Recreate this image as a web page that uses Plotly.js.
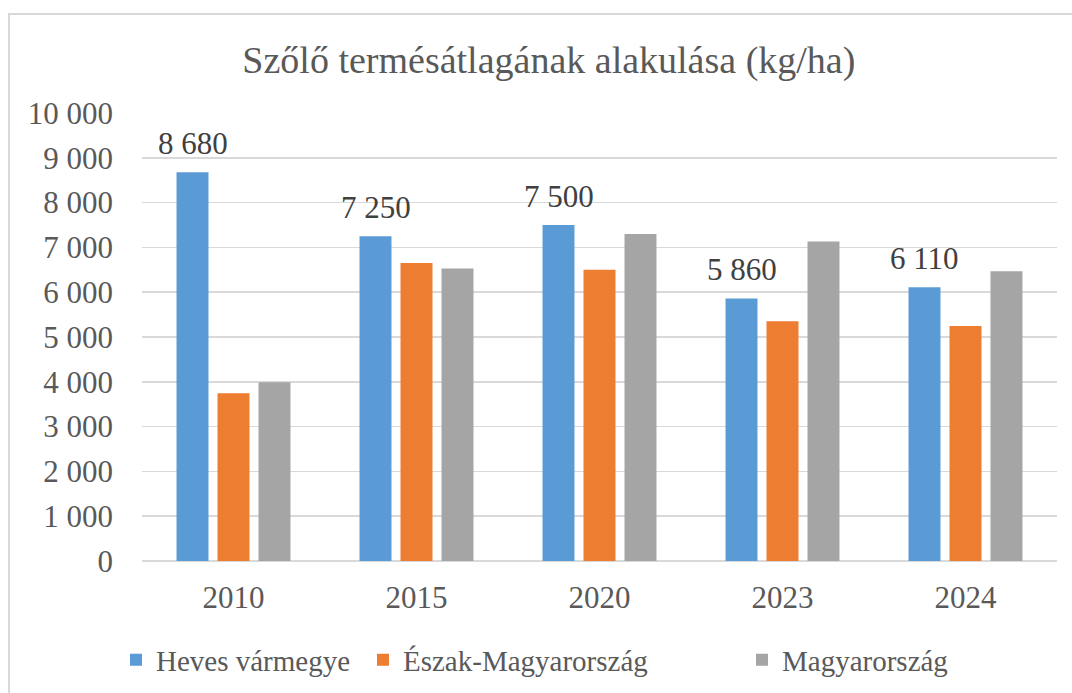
<!DOCTYPE html>
<html>
<head>
<meta charset="utf-8">
<script src="https://cdn.plot.ly/plotly-3.0.1.min.js"></script>
<style>
  html, body { margin: 0; padding: 0; background: #ffffff; overflow: hidden; }
  #frame { position: absolute; left: 8px; top: 13px; width: 1100px; height: 720px; border: 2px solid #d9d9d9; box-sizing: border-box; }
  #chart { position: absolute; left: 0; top: 0; width: 1072px; height: 693px; }
</style>
</head>
<body>
<div id="frame"></div>
<div id="chart"></div>
<script>
const years = ['2010', '2015', '2020', '2023', '2024'];
const seriesNames = ['Heves vármegye', 'Észak-Magyarország', 'Magyarország'];
const heves = [8680, 7250, 7500, 5860, 6110];
const eszak = [3745, 6650, 6500, 5350, 5245];
const magyar = [3990, 6530, 7300, 7130, 6470];
const yTickVals = [0, 1000, 2000, 3000, 4000, 5000, 6000, 7000, 8000, 9000, 10000];
const yTickText = ['0', '1 000', '2 000', '3 000', '4 000', '5 000', '6 000', '7 000', '8 000', '9 000', '10 000'];

function fmt(v) {
  return String(v).replace(/\B(?=(\d{3})+(?!\d))/g, ' ');
}

const FONT = '"Liberation Serif", "Times New Roman", serif';
const colors = ['#5B9BD5', '#ED7D31', '#A5A5A5'];
const BARGAP = 0.328;
const GROUPGAP = 0.22;
const slot = (1 - BARGAP) / 3;

const traces = [
  { type: 'bar', name: seriesNames[0], x: years, y: heves, marker: { color: colors[0] }, legend: 'legend' },
  { type: 'bar', name: seriesNames[1], x: years, y: eszak, marker: { color: colors[1] }, legend: 'legend2' },
  { type: 'bar', name: seriesNames[2], x: years, y: magyar, marker: { color: colors[2] }, legend: 'legend3' }
];

const annotations = heves.map((v, i) => ({
  x: i - slot, y: v, xref: 'x', yref: 'y',
  text: fmt(v), showarrow: false,
  xanchor: 'center', yanchor: 'bottom', yshift: 9,
  font: { family: FONT, size: 31, color: '#404040' }
}));

const legendFont = { family: FONT, size: 29, color: '#595959' };
function legendAt(px) {
  return {
    orientation: 'h', x: px / 1072, xanchor: 'left', xref: 'container',
    y: 1 - 660 / 693, yanchor: 'middle', yref: 'container',
    font: legendFont, bgcolor: 'rgba(0,0,0,0)'
  };
}

const layout = {
  width: 1072, height: 693,
  paper_bgcolor: 'rgba(0,0,0,0)', plot_bgcolor: 'rgba(0,0,0,0)',
  margin: { l: 142, r: 15, t: 113, b: 132 },
  font: { family: FONT, color: '#595959', size: 31 },
  title: {
    text: 'Szőlő termésátlagának alakulása (kg/ha)',
    font: { family: FONT, size: 38, color: '#595959' },
    x: 0.512, xanchor: 'center', xref: 'container',
    y: 1 - 60 / 693, yanchor: 'middle', yref: 'container'
  },
  barmode: 'group',
  bargap: BARGAP,
  bargroupgap: GROUPGAP,
  xaxis: {
    type: 'category', tickvals: years, ticktext: years,
    showgrid: false, zeroline: false, showline: false, ticks: '',
    tickfont: { family: FONT, size: 31, color: '#595959' },
    ticklabelstandoff: 15
  },
  yaxis: {
    range: [0, 10000], tickvals: yTickVals, ticktext: yTickText,
    showgrid: true, gridcolor: '#d9d9d9', gridwidth: 1.5,
    zeroline: true, zerolinecolor: '#d9d9d9', zerolinewidth: 1.5,
    showline: false, ticks: '',
    tickfont: { family: FONT, size: 31, color: '#595959' },
    ticklabelstandoff: 28
  },
  annotations: annotations,
  showlegend: true,
  legend: legendAt(116),
  legend2: legendAt(363),
  legend3: legendAt(742)
};

Plotly.newPlot('chart', traces, layout, { displayModeBar: false, staticPlot: true });
</script>
</body>
</html>
